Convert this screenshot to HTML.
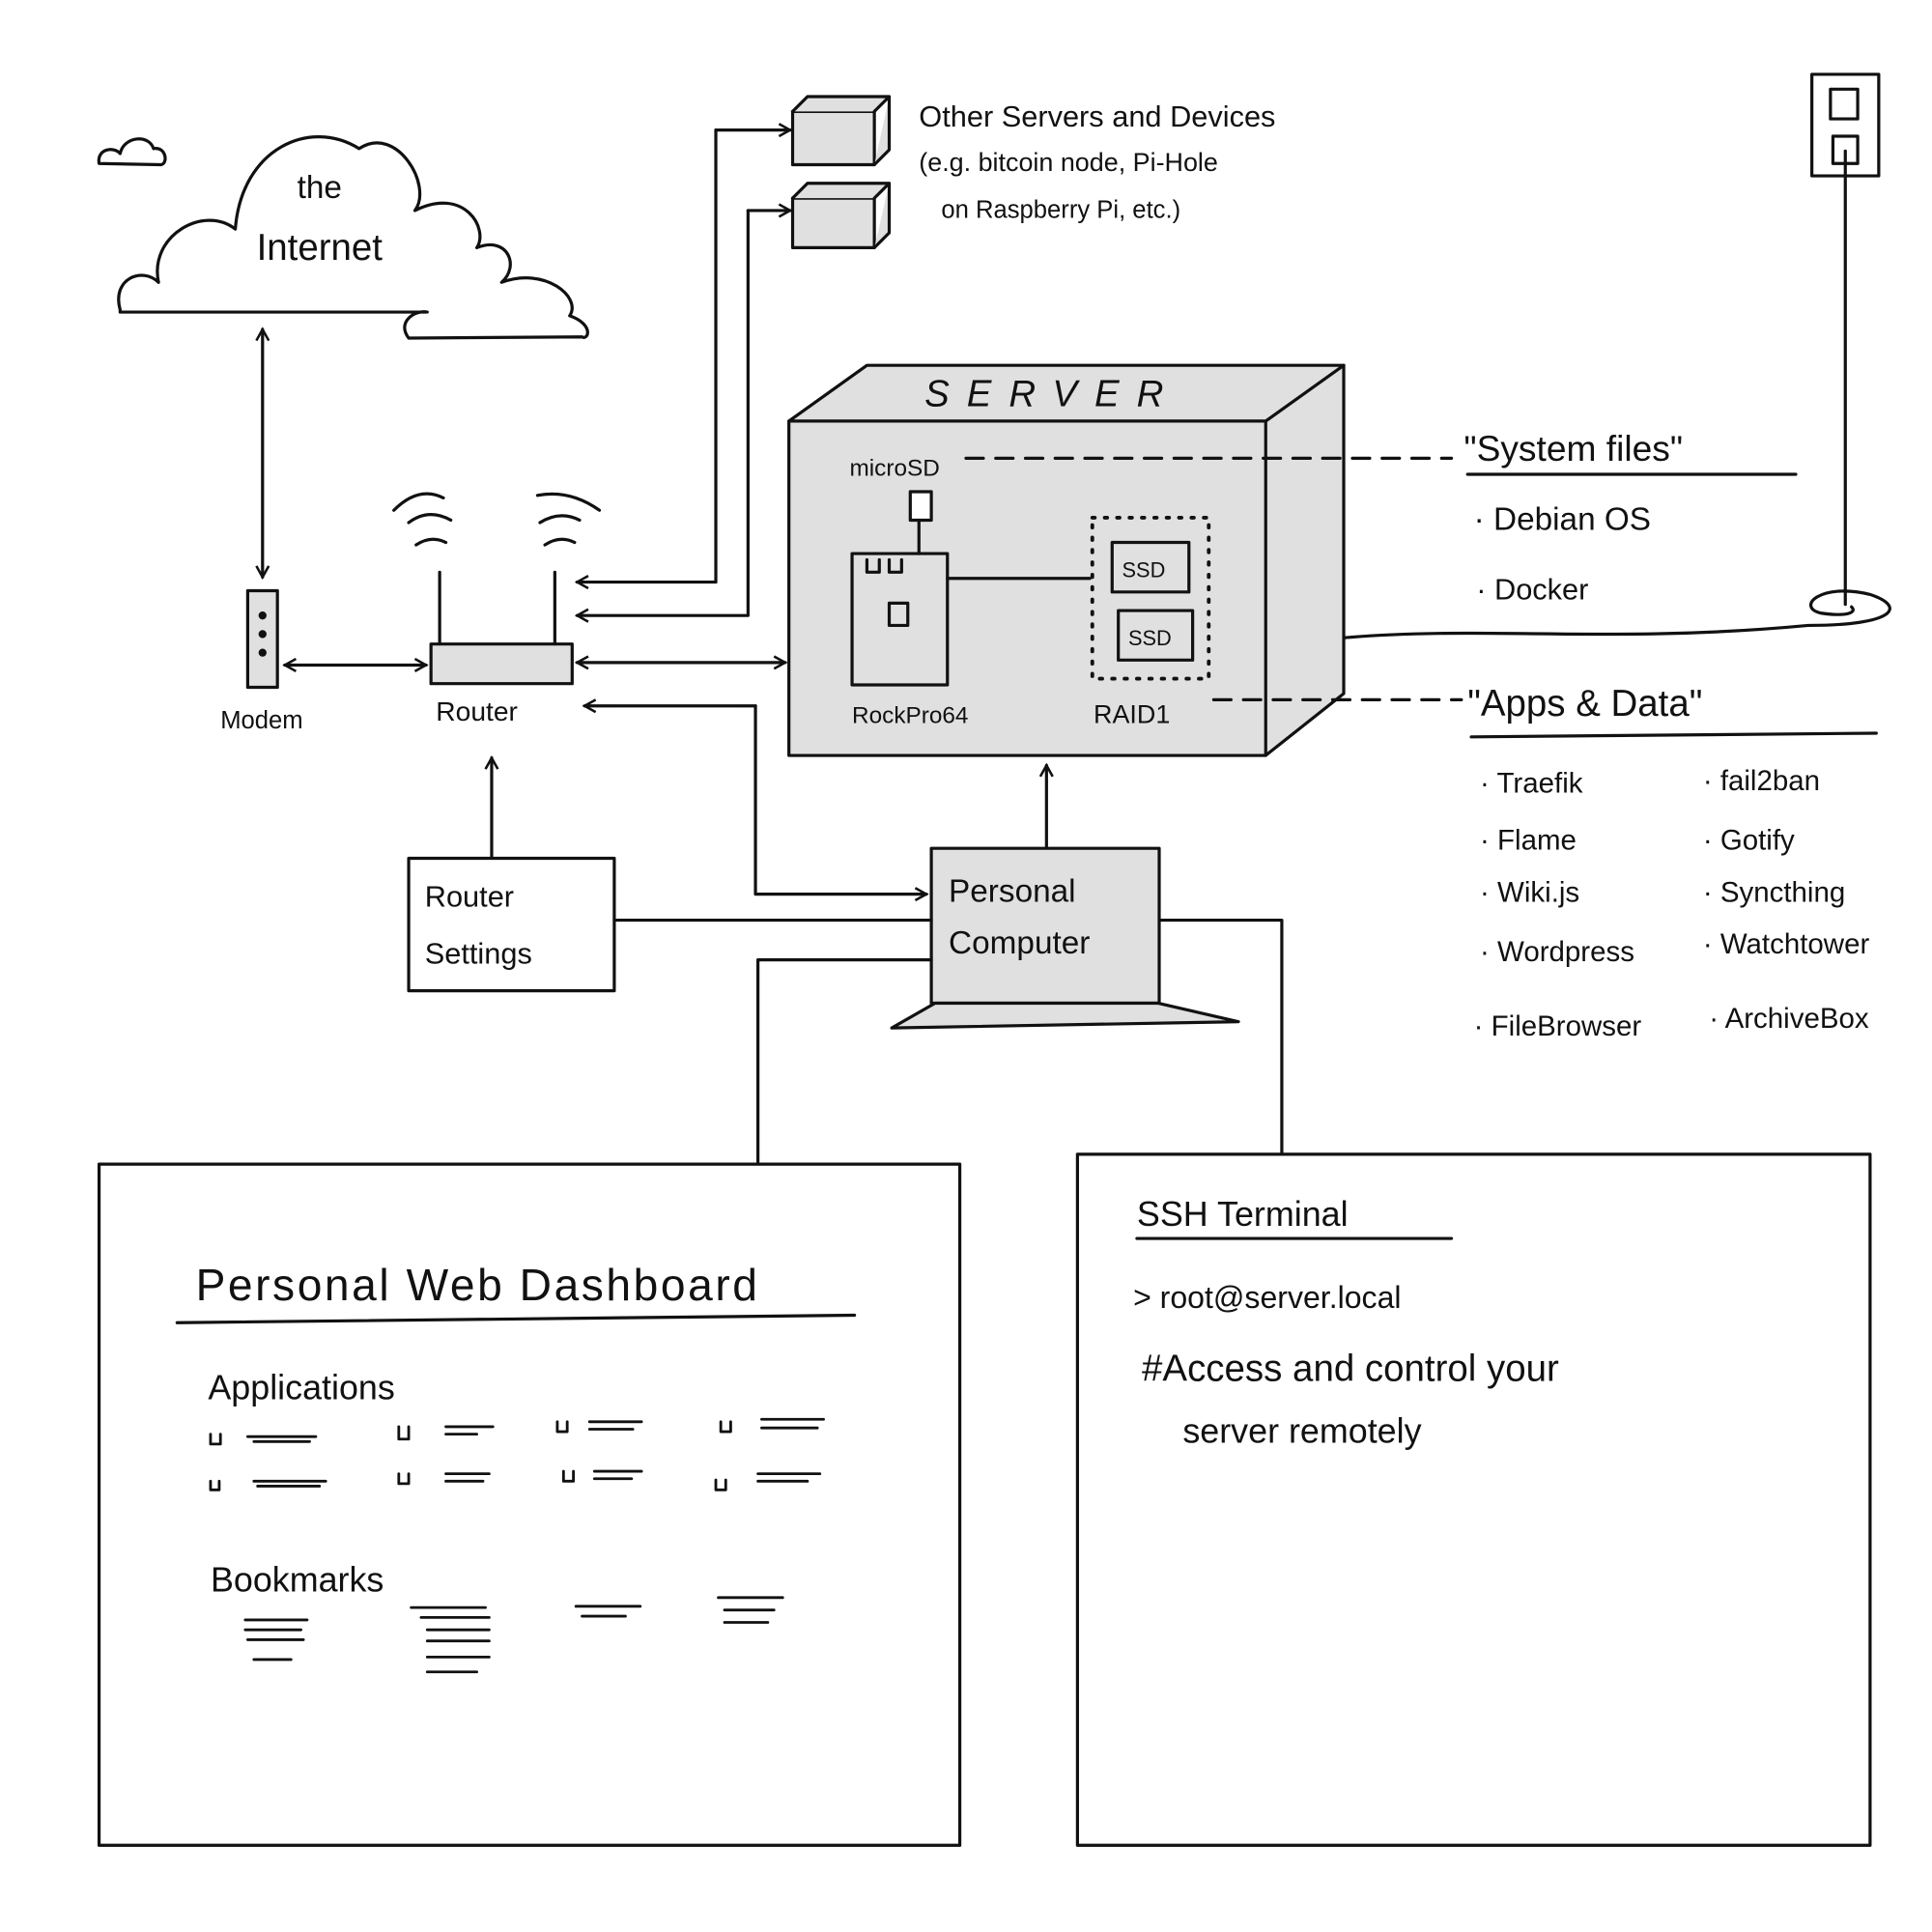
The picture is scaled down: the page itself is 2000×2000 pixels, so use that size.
<!DOCTYPE html>
<html><head><meta charset="utf-8"><style>
html,body{margin:0;padding:0;background:#fff;}
svg{display:block}
text{font-family:"Liberation Sans",sans-serif;fill:#111}
</style></head><body>
<svg width="2000" height="2000" viewBox="0 0 1560 1560" xmlns="http://www.w3.org/2000/svg">
<defs>
<marker id="a" markerWidth="12" markerHeight="12" refX="10" refY="6" orient="auto-start-reverse" markerUnits="userSpaceOnUse"><path d="M1,1 L10,6 L1,11" fill="none" stroke="#111" stroke-width="2"/></marker>
</defs>
<g stroke="#111" stroke-width="2.5" fill="none" stroke-linecap="round" stroke-linejoin="round">
<path d="M80,132 C78,120 92,118 97,124 C100,110 120,108 124,120 C134,118 136,132 130,133 Z"/>
<path d="M97,250 C90,225 115,215 128,228 C120,190 165,165 190,185 C195,120 250,95 290,120 C320,100 350,150 335,170 C375,150 395,185 385,200 C410,190 420,215 405,228 C440,215 470,240 460,255 C480,262 475,275 470,272 L330,273 C320,260 335,250 345,252 L97,252 Z"/>
<line x1="212" y1="266" x2="212" y2="466" marker-end="url(#a)" marker-start="url(#a)"/>
<rect x="200" y="477" width="24" height="78" fill="#e0e0e0"/>
<circle cx="212" cy="497" r="2" fill="#111"/><circle cx="212" cy="512" r="2" fill="#111"/><circle cx="212" cy="527" r="2" fill="#111"/>
<line x1="230" y1="537" x2="344" y2="537" marker-end="url(#a)" marker-start="url(#a)"/>
<rect x="348" y="520" width="114" height="32" fill="#e0e0e0"/>
<line x1="355" y1="462" x2="355" y2="520"/><line x1="448" y1="462" x2="448" y2="520"/>
<path d="M336,440 Q348,432 360,438"/><path d="M330,422 Q346,410 364,420"/><path d="M318,412 Q338,392 358,402"/>
<path d="M440,440 Q452,432 464,438"/><path d="M436,422 Q452,412 468,420"/><path d="M434,400 Q460,395 484,412"/>
<rect x="330" y="693" width="166" height="107"/>
<line x1="397" y1="692" x2="397" y2="612" marker-end="url(#a)"/>
<rect x="640" y="90" width="66" height="43" fill="#e0e0e0"/><path d="M640,90 L652,78 L718,78 L706,90 M706,133 L718,121 L718,78" fill="#e0e0e0"/>
<rect x="640" y="160" width="66" height="40" fill="#e0e0e0"/><path d="M640,160 L652,148 L718,148 L706,160 M706,200 L718,188 L718,148" fill="#e0e0e0"/>
<polyline points="578,105 578,470 466,470" marker-end="url(#a)"/>
<line x1="578" y1="105" x2="638" y2="105" marker-end="url(#a)"/>
<polyline points="604,170 604,497 466,497" marker-end="url(#a)"/>
<line x1="604" y1="170" x2="638" y2="170" marker-end="url(#a)"/>
<line x1="466" y1="535" x2="634" y2="535" marker-end="url(#a)" marker-start="url(#a)"/>
<polyline points="610,570 472,570" marker-end="url(#a)"/>
<polyline points="610,570 610,722 748,722" marker-end="url(#a)"/>
<polygon points="637,340 700,295 1085,295 1085,560 1022,610 637,610" fill="#e0e0e0"/>
<path d="M637,340 L1022,340 L1085,295 M1022,340 L1022,610"/>
<line x1="780" y1="370" x2="1172" y2="370" stroke-dasharray="14,10"/>
<rect x="735" y="397" width="17" height="23" fill="#fff"/>
<line x1="742" y1="420" x2="742" y2="447"/>
<rect x="688" y="447" width="77" height="106"/>
<rect x="718" y="487" width="15" height="18"/>
<path d="M700,452 v10 h10 v-10 M718,452 v10 h10 v-10"/>
<line x1="765" y1="467" x2="880" y2="467"/>
<rect x="882" y="418" width="94" height="130" stroke-dasharray="2,8" stroke-width="3"/>
<rect x="898" y="438" width="62" height="40"/>
<rect x="903" y="493" width="60" height="40"/>
<line x1="980" y1="565" x2="1180" y2="565" stroke-dasharray="14,10"/>
<line x1="845" y1="684" x2="845" y2="618" marker-end="url(#a)"/>
<line x1="1185" y1="383" x2="1450" y2="383"/>
<line x1="1188" y1="595" x2="1515" y2="592"/>
<path d="M1085,515 C1200,505 1300,520 1460,505 C1530,505 1540,490 1510,480 C1470,470 1450,490 1470,495 C1490,498 1500,495 1495,490"/>
<line x1="1490" y1="122" x2="1490" y2="488"/>
<rect x="1463" y="60" width="54" height="82"/>
<rect x="1478" y="72" width="22" height="24"/><rect x="1480" y="110" width="20" height="22"/>
<rect x="752" y="685" width="184" height="125" fill="#e0e0e0"/>
<polygon points="720,830 755,810 935,810 1000,825" fill="#e0e0e0"/>
<line x1="498" y1="743" x2="752" y2="743"/>
<polyline points="936,743 1035,743 1035,932"/>
<polyline points="752,775 612,775 612,938"/>
<rect x="80" y="940" width="695" height="550"/>
<line x1="143" y1="1068" x2="690" y2="1062"/>
<g stroke-width="2.2">
<path d="M170,1158 v8 h8 v-8 M200,1160 h55 M205,1164 h45 M322,1152 v10 h8 v-10 M360,1152 h38 M360,1158 h25 M450,1148 v8 h8 v-8 M476,1148 h42 M476,1154 h35 M582,1148 v8 h8 v-8 M615,1146 h50 M615,1153 h45
M170,1196 v7 h7 v-7 M205,1196 h58 M208,1200 h50 M322,1190 v8 h8 v-8 M360,1190 h35 M360,1196 h30 M455,1188 v8 h8 v-8 M480,1188 h38 M480,1194 h30 M578,1195 v8 h8 v-8 M612,1190 h50 M612,1196 h40"/>
<path d="M198,1308 h50 M198,1316 h45 M200,1324 h45 M205,1340 h30 M332,1298 h60 M340,1306 h55 M345,1316 h50 M345,1325 h50 M345,1338 h50 M345,1350 h40 M465,1297 h52 M470,1305 h35 M580,1290 h52 M585,1300 h40 M585,1310 h35"/>
</g>
<rect x="870" y="932" width="640" height="558"/>
<line x1="918" y1="1000" x2="1172" y2="1000"/>
</g>
<g font-size="26">
<text x="258" y="160" text-anchor="middle">the</text>
<text x="258" y="210" text-anchor="middle" font-size="30">Internet</text>
<text x="178" y="588" font-size="20">Modem</text>
<text x="352" y="582" font-size="22">Router</text>
<text x="343" y="732" font-size="24">Router</text>
<text x="343" y="778" font-size="24">Settings</text>
<text x="742" y="102" font-size="24">Other Servers and Devices</text>
<text x="742" y="138" font-size="21">(e.g. bitcoin node, Pi-Hole</text>
<text x="760" y="176" font-size="20">on Raspberry Pi, etc.)</text>
<text x="850" y="328" text-anchor="middle" font-size="30" font-style="italic" letter-spacing="14">SERVER</text>
<text x="686" y="384" font-size="19">microSD</text>
<text x="688" y="584" font-size="19">RockPro64</text>
<text x="906" y="466" font-size="17">SSD</text>
<text x="911" y="521" font-size="17">SSD</text>
<text x="883" y="584" font-size="21">RAID1</text>
<text x="1182" y="372" font-size="29">"System files"</text>
<text x="1190" y="428" font-size="26">· Debian OS</text>
<text x="1192" y="484" font-size="24">· Docker</text>
<text x="1185" y="578" font-size="30">"Apps &amp; Data"</text>
<g font-size="23">
<text x="1195" y="640">· Traefik</text><text x="1375" y="638">· fail2ban</text>
<text x="1195" y="686">· Flame</text><text x="1375" y="686">· Gotify</text>
<text x="1195" y="728">· Wiki.js</text><text x="1375" y="728">· Syncthing</text>
<text x="1195" y="776">· Wordpress</text><text x="1375" y="770">· Watchtower</text>
<text x="1190" y="836">· FileBrowser</text><text x="1380" y="830">· ArchiveBox</text>
</g>
<text x="766" y="728" font-size="26">Personal</text>
<text x="766" y="770" font-size="26">Computer</text>
<text x="158" y="1050" font-size="36" letter-spacing="2">Personal Web Dashboard</text>
<text x="168" y="1130" font-size="28">Applications</text>
<text x="170" y="1285" font-size="28">Bookmarks</text>
<text x="918" y="990" font-size="28">SSH Terminal</text>
<text x="915" y="1056" font-size="25" font-family="Liberation Mono">&gt; root@server.local</text>
<text x="922" y="1115" font-size="30">#Access and control your</text>
<text x="955" y="1165" font-size="28">server remotely</text>
</g>
</svg>
</body></html>
